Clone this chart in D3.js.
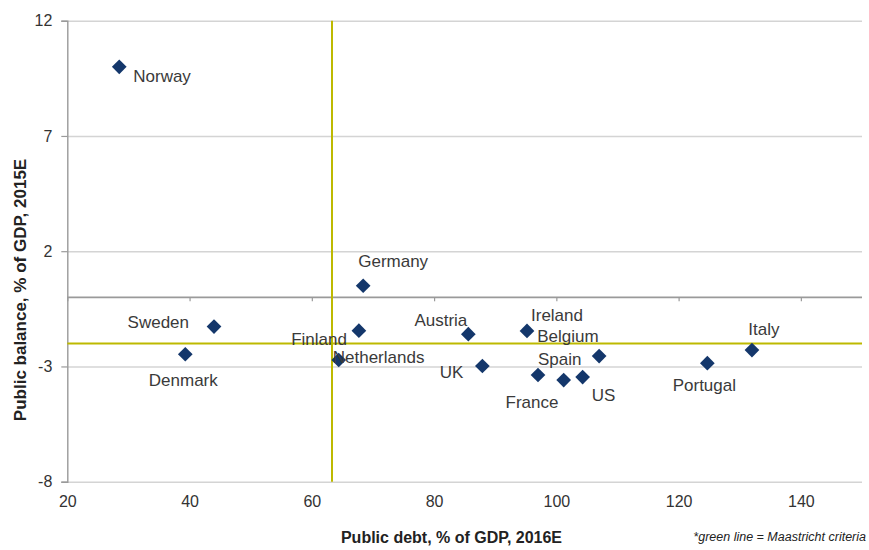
<!DOCTYPE html>
<html>
<head>
<meta charset="utf-8">
<script src="https://cdn.jsdelivr.net/npm/d3@7"></script>
<style>
  html, body { margin: 0; padding: 0; background: #ffffff; }
  svg { display: block; font-family: "Liberation Sans", Arial, sans-serif; }
</style>
</head>
<body>
<svg id="chart" width="869" height="550"></svg>
<script>
// Public debt (2016E) vs public balance (2015E), % of GDP
const countries = ["Norway", "Sweden", "Denmark", "Germany", "Finland", "Netherlands", "Austria",
                   "Ireland", "Belgium", "UK", "France", "Spain", "US", "Portugal", "Italy"];
const publicDebt = [28.5, 44.0, 39.3, 68.4, 67.7, 64.4, 85.6, 95.2, 107.0, 87.9, 97.0, 101.2, 104.3, 124.7, 132.0];
const publicBalance = [10.0, -1.27, -2.47, 0.5, -1.45, -2.72, -1.6, -1.46, -2.55, -2.98, -3.37, -3.59, -3.46, -2.86, -2.29];

// Maastricht reference lines (green)
const maastrichtDebt = [63.3];
const maastrichtBalance = [-2.0];

// Axis ticks
const xTicks = [20, 40, 60, 80, 100, 120, 140];
const yTicks = [-8, -3, 2, 7, 12];
const xDomain = [20, 150];
const yDomain = [-8, 12];

// Label placement relative to each marker: [dx, dy, anchor]
const labelPlacement = {
  "Norway": [14, 10, "start"],
  "Sweden": [-25, -4, "end"],
  "Denmark": [-2, 26, "middle"],
  "Germany": [30, -24, "middle"],
  "Finland": [-12, 9, "end"],
  "Netherlands": [-6, -2, "start"],
  "Austria": [-1, -14, "end"],
  "Ireland": [4, -15, "start"],
  "Belgium": [-62, -20, "start"],
  "UK": [-19, 7, "end"],
  "France": [-6, 28, "middle"],
  "Spain": [-4, -21, "middle"],
  "US": [9, 18, "start"],
  "Portugal": [-3, 22, "middle"],
  "Italy": [12, -21, "middle"]
};

const svg = d3.select("#chart");
const plotLeft = 67.3, plotRight = 862, plotTop = 20.7, plotBottom = 481.7;

const x = d3.scaleLinear().domain(xDomain).range([plotLeft, plotRight]);
const y = d3.scaleLinear().domain(yDomain).range([plotBottom, plotTop]);

const textColor = "#333333";
const gridColor = "#d4d4d4";
const axisColor = "#9a9a9a";
const green = "#bdb900";
const markerColor = "#14376b";
const plainNumber = d => String(d);

// Horizontal gridlines
const grid = svg.append("g")
  .attr("transform", `translate(${plotLeft},0)`)
  .call(d3.axisLeft(y).tickValues(yTicks).tickSize(-(plotRight - plotLeft)).tickFormat(""));
grid.select(".domain").remove();
grid.selectAll(".tick line").attr("stroke", gridColor).attr("stroke-width", 1.6);

// Y axis with labels
const yAxis = svg.append("g")
  .attr("transform", `translate(${plotLeft},0)`)
  .call(d3.axisLeft(y).tickValues(yTicks).tickSize(6).tickPadding(9).tickFormat(plainNumber));
yAxis.select(".domain").attr("stroke", axisColor).attr("stroke-width", 1.4);
yAxis.selectAll(".tick line").attr("stroke", axisColor).attr("stroke-width", 1.2);
yAxis.selectAll(".tick text")
  .attr("fill", textColor).style("font-size", "16px")
  .style("font-family", "'Liberation Sans', Arial, sans-serif");

// X axis line crossing at zero, with tick marks only
const xZero = svg.append("g")
  .attr("transform", `translate(0,${y(0)})`)
  .call(d3.axisBottom(x).tickValues(xTicks).tickSize(4).tickFormat(""));
xZero.select(".domain").attr("stroke", axisColor).attr("stroke-width", 1.8).attr("d", `M${plotLeft},0H${plotRight}`);
xZero.selectAll(".tick line").attr("stroke", axisColor).attr("stroke-width", 1.2);

// X tick labels along the bottom
const xLabels = svg.append("g")
  .attr("transform", `translate(0,${plotBottom})`)
  .call(d3.axisBottom(x).tickValues(xTicks).tickSize(0).tickPadding(14).tickFormat(plainNumber));
xLabels.select(".domain").remove();
xLabels.selectAll(".tick text")
  .attr("fill", textColor).style("font-size", "16px")
  .style("font-family", "'Liberation Sans', Arial, sans-serif");

// Maastricht criteria lines
svg.append("g").selectAll("line")
  .data(maastrichtDebt).join("line")
  .attr("x1", d => x(d)).attr("x2", d => x(d))
  .attr("y1", plotTop).attr("y2", plotBottom)
  .attr("stroke", green).attr("stroke-width", 2);
svg.append("g").selectAll("line")
  .data(maastrichtBalance).join("line")
  .attr("x1", plotLeft).attr("x2", plotRight)
  .attr("y1", d => y(d)).attr("y2", d => y(d))
  .attr("stroke", green).attr("stroke-width", 2);

// Country markers
const points = countries.map((c, i) => ({ name: c, debt: publicDebt[i], balance: publicBalance[i] }));
const diamond = d3.symbol().type(d3.symbolSquare).size(108);

svg.append("g").selectAll("path")
  .data(points).join("path")
  .attr("d", diamond)
  .attr("transform", d => `translate(${x(d.debt)},${y(d.balance)}) rotate(45)`)
  .attr("fill", markerColor);

// Country labels
svg.append("g").selectAll("text")
  .data(points).join("text")
  .attr("x", d => x(d.debt) + labelPlacement[d.name][0])
  .attr("y", d => y(d.balance) + labelPlacement[d.name][1])
  .attr("text-anchor", d => labelPlacement[d.name][2])
  .attr("dominant-baseline", "central")
  .attr("fill", "#3a3a3a")
  .style("font-size", "17px")
  .text(d => d.name);

// Axis titles
svg.append("text")
  .attr("x", (338 + 565) / 2).attr("y", 537)
  .attr("text-anchor", "middle").attr("dominant-baseline", "central")
  .attr("fill", "#222").style("font-size", "16px").style("font-weight", "bold")
  .text("Public debt, % of GDP, 2016E");

svg.append("text")
  .attr("transform", "translate(20,290) rotate(-90)")
  .attr("text-anchor", "middle").attr("dominant-baseline", "central")
  .attr("fill", "#222").style("font-size", "17px").style("font-weight", "bold")
  .text("Public balance, % of GDP, 2015E");

// Footnote
svg.append("text")
  .attr("x", 866).attr("y", 537)
  .attr("text-anchor", "end").attr("dominant-baseline", "central")
  .attr("fill", "#222").style("font-size", "12.5px").style("font-style", "italic")
  .text("*green line = Maastricht criteria");
</script>
</body>
</html>
